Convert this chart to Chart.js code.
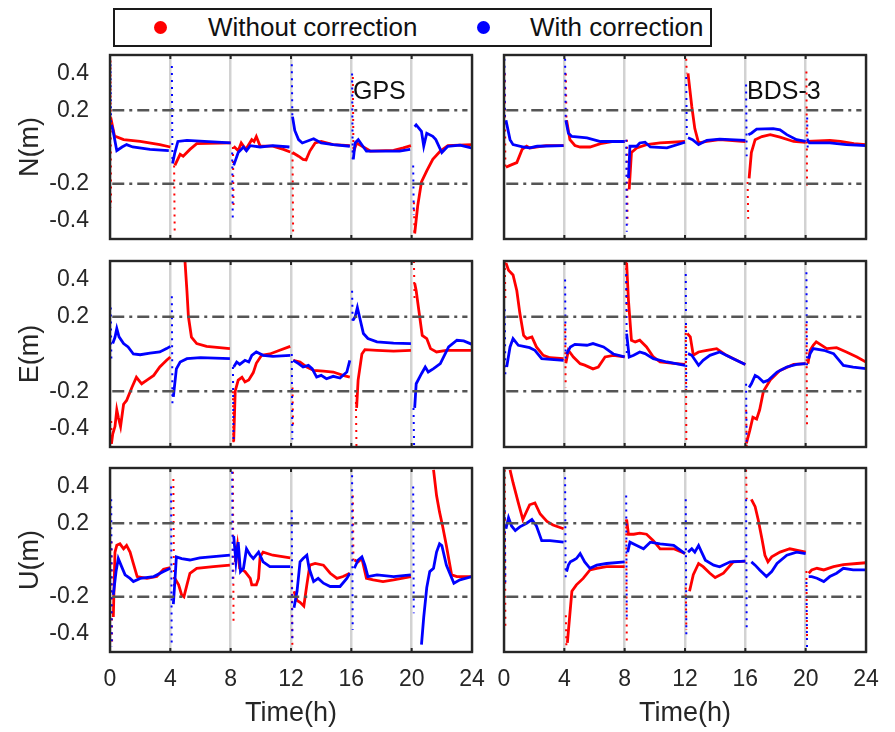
<!DOCTYPE html>
<html><head><meta charset="utf-8">
<script src="https://cdn.jsdelivr.net/npm/chart.js@4.4.1/dist/chart.umd.min.js"></script>
<style>
html,body{margin:0;padding:0;background:#fff;width:895px;height:732px;overflow:hidden;}
canvas{position:absolute;}
#legend{position:absolute;left:113px;top:8px;width:595px;height:35px;border:2px solid #1a1a1a;background:#fff;font-family:"Liberation Sans",Arial,sans-serif;font-size:26px;color:#111;}
.li{position:absolute;top:0;line-height:35px;white-space:nowrap;}
.dot{position:absolute;top:11px;width:13px;height:13px;border-radius:50%;}
</style></head><body>
<div id="legend"></div>
<canvas id="p0"></canvas><canvas id="p1"></canvas>
<canvas id="p2"></canvas><canvas id="p3"></canvas>
<canvas id="p4"></canvas><canvas id="p5"></canvas>
<script>
// ---------- data ----------
const seriesNames = ['Without correction', 'With correction'];
const seriesColors = ['#ff0000', '#0000ff'];
const systems = ['GPS', 'BDS-3'];
const components = ['N(m)', 'E(m)', 'U(m)'];
const xTicks = [0, 4, 8, 12, 16, 20, 24];
const yTicks = [-0.4, -0.2, 0.2, 0.4];
const refLevels = [0.2, -0.2];

// sessions: [time(h), value(m)]
const gpsN_red = [
 [[0.05,0.16],[0.15,0.12],[0.3,0.06],[0.9,0.04],[2.0,0.03],[3.3,0.013],[4.0,0.0]],
 [[4.3,-0.1],[4.65,-0.04],[4.85,-0.05],[5.3,-0.013],[5.75,0.018],[8.0,0.022]],
 [[8.2,0.004],[8.5,-0.02],[8.7,0.022],[9.0,-0.013],[9.4,0.04],[9.55,0.03],[9.7,0.057],[9.95,0.005],[10.8,0.005],[11.5,-0.013],[11.95,-0.027]],
 [[12.1,-0.03],[12.5,-0.05],[12.8,-0.067],[13.0,-0.07],[13.25,-0.022],[13.6,0.022],[14.0,0.03],[14.8,0.013],[15.9,0.007]],
 [[16.13,-0.03],[16.35,0.022],[16.8,0.0],[17.25,-0.022],[18.8,-0.018],[19.45,-0.005],[19.95,0.007]],
 [[20.2,-0.47],[20.4,-0.32],[20.65,-0.19],[21.0,-0.13],[21.4,-0.067],[21.9,-0.022],[22.4,0.008],[23.95,0.013]]
];
const gpsN_blue = [
 [[0.1,0.12],[0.2,0.09],[0.45,-0.02],[0.8,0.0],[1.1,0.013],[1.5,0.0],[2.65,-0.013],[3.9,-0.02]],
 [[4.15,-0.09],[4.3,-0.03],[4.5,0.03],[5.1,0.036],[8.0,0.022]],
 [[8.2,-0.1],[8.5,-0.03],[8.85,0.0],[9.05,-0.02],[9.3,0.007],[9.95,0.0],[10.8,0.007],[11.9,0.0]],
 [[12.1,0.165],[12.25,0.09],[12.5,0.04],[12.75,0.022],[13.5,0.045],[14.0,0.022],[14.8,0.013],[15.9,0.004]],
 [[16.13,-0.067],[16.25,0.022],[16.46,0.04],[16.8,0.0],[17.0,-0.022],[19.2,-0.022],[19.9,-0.013]],
 [[20.2,0.11],[20.3,0.12],[20.65,0.085],[20.8,0.005],[21.0,0.075],[21.4,0.058],[21.6,0.04],[22.0,-0.03],[22.4,0.004],[23.2,0.01],[23.95,-0.005]]
];
// spikes: [time, start value, end value]
const gpsN_redSpk = [[0.03,0.47,-0.33],[4.25,-0.1,-0.47],[8.15,0.0,-0.32],[12.1,-0.03,-0.46],[16.1,0.38,-0.03],[20.15,-0.3,-0.47]];
const gpsN_blueSpk = [[0.03,0.45,0.1],[4.1,0.44,-0.085],[8.1,-0.03,-0.4],[12.05,0.45,0.165],[16.05,0.4,-0.067],[20.1,-0.1,-0.37]];

const bdsN_red = [
 [[0.13,-0.11],[0.4,-0.1],[0.85,-0.085],[1.2,-0.013],[1.5,0.005],[1.7,-0.005],[2.8,0.008],[3.95,0.008]],
 [[4.15,0.145],[4.37,0.04],[4.7,0.008],[5.05,0.0],[5.7,0.0],[6.4,0.018],[7.25,0.03],[8.0,0.03]],
 [[8.3,-0.23],[8.45,-0.03],[8.8,-0.005],[9.45,0.013],[10.35,0.022],[12.0,0.03]],
 [[12.2,0.4],[12.45,0.22],[12.65,0.1],[12.9,0.022],[13.45,0.03],[14.3,0.04],[16.0,0.03]],
 [[16.25,-0.17],[16.4,-0.03],[16.65,0.04],[17.1,0.057],[17.65,0.067],[18.3,0.054],[19.2,0.03],[20.0,0.025]],
 [[20.1,0.03],[21.6,0.036],[22.3,0.03],[23.2,0.018],[24.0,0.013]]
];
const bdsN_blue = [
 [[0.13,0.145],[0.4,0.04],[0.6,0.013],[1.3,0.0],[1.7,-0.005],[2.2,0.004],[3.95,0.008]],
 [[4.1,0.145],[4.27,0.075],[4.5,0.057],[5.5,0.05],[6.4,0.03],[8.0,0.03]],
 [[8.25,-0.17],[8.35,0.004],[8.8,0.004],[9.0,0.022],[9.35,0.026],[9.7,0.0],[10.8,-0.005],[12.0,0.026]],
 [[12.2,0.05],[12.5,0.04],[12.9,0.013],[13.45,0.036],[14.3,0.043],[16.0,0.036]],
 [[16.2,0.067],[16.4,0.075],[16.75,0.097],[17.85,0.1],[18.3,0.093],[18.75,0.067],[19.4,0.04],[20.0,0.03]],
 [[20.1,0.04],[20.25,0.022],[21.6,0.022],[22.7,0.013],[24.0,0.008]]
];
const bdsN_redSpk = [[0.05,0.4,-0.11],[4.1,0.4,0.14],[8.15,0.04,-0.42],[12.08,0.48,0.4],[16.15,-0.19,-0.39],[20.05,0.41,-0.21]];
const bdsN_blueSpk = [[0.03,0.48,0.1],[4.05,0.48,0.15],[8.1,0.04,-0.46],[12.08,0.38,0.05],[16.05,0.34,-0.05],[20.1,0.16,-0.03]];

const gpsE_red = [
 [[0.1,-0.48],[0.18,-0.43],[0.33,-0.39],[0.45,-0.3],[0.55,-0.34],[0.7,-0.39],[0.9,-0.27],[1.1,-0.25],[1.45,-0.18],[1.75,-0.125],[2.1,-0.16],[2.45,-0.14],[2.9,-0.115],[3.3,-0.07],[3.75,-0.034],[4.0,-0.016]],
 [[4.97,0.5],[5.1,0.34],[5.2,0.2],[5.4,0.09],[5.75,0.056],[6.4,0.041],[7.95,0.029]],
 [[8.2,-0.47],[8.3,-0.2],[8.5,-0.14],[8.75,-0.125],[8.95,-0.15],[9.2,-0.14],[9.5,-0.1],[9.7,-0.05],[10.05,-0.007],[10.6,0.0],[11.25,0.02],[11.95,0.041]],
 [[12.15,-0.034],[12.6,-0.043],[13.05,-0.07],[13.5,-0.088],[14.15,-0.092],[14.8,-0.097],[15.45,-0.115],[15.9,-0.124]],
 [[16.35,-0.29],[16.45,-0.14],[16.7,0.0],[16.9,0.023],[17.7,0.02],[18.8,0.016],[19.95,0.02]],
 [[20.2,0.38],[20.3,0.34],[20.5,0.22],[20.7,0.1],[21.0,0.083],[21.25,0.029],[21.65,0.011],[22.3,0.02],[24.0,0.02]]
];
const gpsE_blue = [
 [[0.18,0.056],[0.33,0.09],[0.45,0.137],[0.6,0.092],[0.9,0.056],[1.2,0.038],[1.55,0.0],[2.0,-0.004],[2.65,0.005],[3.3,0.011],[3.75,0.029],[4.0,0.041]],
 [[4.2,-0.23],[4.4,-0.08],[4.65,-0.043],[5.1,-0.025],[6.0,-0.02],[7.95,-0.025]],
 [[8.2,-0.07],[8.4,-0.043],[8.6,-0.056],[8.95,-0.034],[9.2,-0.043],[9.4,-0.007],[9.7,0.011],[10.15,-0.007],[10.8,-0.013],[11.95,-0.007]],
 [[12.15,-0.034],[12.5,-0.052],[12.8,-0.07],[13.15,-0.061],[13.4,-0.079],[13.7,-0.124],[14.0,-0.115],[14.35,-0.133],[14.8,-0.12],[15.25,-0.129],[15.7,-0.097],[15.9,-0.034]],
 [[16.1,0.18],[16.25,0.2],[16.4,0.25],[16.6,0.18],[16.8,0.11],[17.1,0.083],[17.7,0.065],[18.8,0.059],[19.95,0.056]],
 [[20.2,-0.29],[20.3,-0.16],[20.65,-0.106],[20.9,-0.07],[21.1,-0.097],[21.45,-0.079],[21.9,-0.052],[22.45,0.038],[23.0,0.074],[23.45,0.07],[24.0,0.052]]
];
const gpsE_redSpk = [[0.08,-0.36,-0.49],[8.15,-0.2,-0.5],[12.1,-0.18,-0.4],[16.3,-0.22,-0.5],[20.15,0.5,0.3]];
const gpsE_blueSpk = [[0.05,0.25,-0.03],[4.1,0.31,-0.27],[8.15,-0.07,-0.48],[12.05,0.0,-0.46],[16.05,0.34,0.16],[20.12,-0.29,-0.49]];

const bdsE_red = [
 [[0.13,0.49],[0.3,0.45],[0.6,0.425],[0.85,0.34],[1.05,0.22],[1.3,0.1],[1.5,0.083],[1.85,0.092],[2.15,0.038],[2.6,-0.007],[3.05,-0.02],[3.95,-0.025]],
 [[4.1,-0.05],[4.27,0.02],[4.6,-0.016],[5.05,-0.052],[5.35,-0.06],[5.9,-0.08],[6.25,-0.07],[6.7,-0.016],[7.25,-0.007],[8.0,-0.016]],
 [[8.13,0.49],[8.25,0.29],[8.45,0.074],[8.7,0.065],[9.0,0.074],[9.45,0.038],[9.9,-0.016],[10.35,-0.043],[11.25,-0.05],[12.0,-0.056]],
 [[12.15,0.11],[12.35,0.092],[12.55,-0.007],[12.9,0.011],[13.45,0.02],[14.1,0.029],[14.75,-0.007],[16.0,-0.056]],
 [[16.07,-0.48],[16.3,-0.41],[16.5,-0.34],[16.75,-0.35],[16.95,-0.3],[17.2,-0.2],[17.65,-0.14],[18.3,-0.088],[19.2,-0.056],[20.0,-0.052]],
 [[20.15,-0.052],[20.3,0.02],[20.5,0.047],[20.7,0.065],[21.4,0.029],[22.05,0.034],[22.7,0.011],[23.4,-0.016],[24.0,-0.043]]
];
const bdsE_blue = [
 [[0.18,-0.07],[0.4,0.038],[0.6,0.083],[0.95,0.047],[1.3,0.041],[1.7,0.034],[2.05,0.02],[2.5,-0.025],[3.95,-0.034]],
 [[4.15,0.0],[4.4,0.038],[4.7,0.052],[5.5,0.047],[5.9,0.056],[6.6,0.038],[7.25,0.0],[8.0,-0.016]],
 [[8.13,0.11],[8.3,-0.016],[8.6,-0.007],[9.0,0.011],[9.35,0.002],[9.9,-0.025],[10.8,-0.043],[12.0,-0.061]],
 [[12.2,0.002],[12.45,-0.007],[12.9,-0.061],[13.2,-0.034],[13.65,-0.007],[14.3,0.011],[15.2,-0.025],[16.0,-0.056]],
 [[16.25,-0.18],[16.4,-0.16],[16.65,-0.115],[16.85,-0.124],[17.2,-0.151],[17.5,-0.142],[18.1,-0.097],[18.75,-0.07],[19.4,-0.056],[20.0,-0.052]],
 [[20.2,-0.025],[20.3,0.002],[20.5,0.029],[21.2,0.02],[21.85,0.002],[22.5,-0.061],[23.15,-0.07],[24.0,-0.079]]
];
const bdsE_redSpk = [[0.05,0.5,0.3],[4.05,0.16,-0.18],[8.1,0.5,0.2],[12.05,0.15,-0.47],[16.05,-0.3,-0.5],[20.05,0.16,-0.39]];
const bdsE_blueSpk = [[0.05,0.24,-0.12],[4.05,0.4,-0.05],[8.1,0.43,0.0],[12.05,0.43,-0.18],[16.05,-0.16,-0.5],[20.05,0.44,-0.07]];

const gpsU_red = [
 [[0.22,-0.31],[0.33,0.043],[0.45,0.08],[0.66,0.088],[0.9,0.061],[1.1,0.079],[1.33,0.043],[1.55,-0.02],[1.8,-0.09],[2.45,-0.1],[3.1,-0.09],[3.55,-0.05],[4.0,-0.042]],
 [[4.3,-0.1],[4.55,-0.135],[4.75,-0.19],[4.9,-0.2],[5.1,-0.135],[5.3,-0.072],[5.75,-0.045],[6.85,-0.036],[7.95,-0.028]],
 [[8.3,-0.01],[8.45,0.079],[8.6,-0.045],[8.95,-0.063],[9.3,-0.1],[9.4,-0.135],[9.7,-0.135],[9.85,-0.1],[9.95,0.017],[10.15,0.043],[10.8,0.026],[11.95,0.012]],
 [[12.2,-0.17],[12.4,-0.22],[12.6,-0.23],[12.85,-0.25],[13.05,-0.135],[13.25,-0.028],[13.6,-0.019],[14.15,-0.028],[14.6,-0.072],[15.05,-0.1],[15.45,-0.09],[15.9,-0.072]],
 [[16.2,0.0],[16.45,-0.01],[16.7,0.008],[17.0,-0.1],[17.45,-0.108],[18.1,-0.117],[18.8,-0.108],[19.95,-0.09]],
 [[21.45,0.49],[21.65,0.35],[21.85,0.26],[22.05,0.185],[22.3,0.079],[22.65,-0.081],[23.0,-0.09],[24.0,-0.09]]
];
const gpsU_blue = [
 [[0.22,-0.19],[0.4,-0.063],[0.55,0.008],[0.77,-0.036],[1.0,-0.081],[1.33,-0.1],[1.55,-0.117],[2.0,-0.1],[2.9,-0.09],[3.55,-0.063],[4.0,-0.045]],
 [[4.2,-0.24],[4.3,-0.117],[4.4,0.017],[4.75,0.008],[5.3,0.0],[5.95,0.011],[7.95,0.026]],
 [[8.2,0.13],[8.35,-0.01],[8.5,0.097],[8.65,-0.063],[8.85,-0.045],[9.05,0.061],[9.3,0.026],[9.5,0.008],[9.85,0.043],[10.15,-0.01],[10.6,-0.036],[11.95,-0.036]],
 [[12.2,-0.26],[12.4,-0.17],[12.6,-0.01],[12.8,0.008],[13.05,0.026],[13.2,-0.045],[13.5,-0.117],[13.8,-0.1],[14.15,-0.126],[14.6,-0.144],[15.25,-0.144],[15.7,-0.1],[15.9,-0.072]],
 [[16.2,-0.045],[16.45,0.0],[16.7,0.017],[16.9,-0.028],[17.1,-0.09],[17.7,-0.081],[18.8,-0.09],[19.95,-0.081]],
 [[20.65,-0.46],[20.8,-0.31],[21.0,-0.15],[21.2,-0.063],[21.45,-0.045],[21.65,0.043],[21.85,0.088],[22.0,0.079],[22.3,-0.028],[22.8,-0.126],[23.2,-0.108],[24.0,-0.09]]
];
const gpsU_redSpk = [[0.1,0.1,-0.47],[4.2,0.44,-0.14],[8.15,0.48,-0.35],[12.05,-0.07,-0.46],[16.1,0.35,0.0]];
const gpsU_blueSpk = [[0.08,0.33,-0.47],[4.05,0.4,-0.47],[8.1,0.48,-0.13],[12.05,0.27,-0.45],[16.05,0.46,-0.38],[20.1,0.4,-0.29]];

const bdsU_red = [
 [[0.4,0.49],[0.6,0.42],[0.95,0.31],[1.25,0.22],[1.5,0.265],[1.7,0.3],[2.05,0.31],[2.4,0.25],[2.85,0.21],[3.25,0.19],[3.95,0.17]],
 [[4.2,-0.45],[4.5,-0.17],[4.8,-0.135],[5.25,-0.1],[5.7,-0.054],[6.15,-0.045],[6.8,-0.036],[8.0,-0.036]],
 [[8.13,0.22],[8.25,0.14],[8.6,0.14],[9.0,0.146],[9.45,0.14],[9.9,0.105],[10.35,0.061],[11.25,0.061],[12.0,0.035]],
 [[12.3,-0.17],[12.55,-0.08],[12.9,-0.019],[13.2,-0.036],[13.65,-0.072],[14.0,-0.095],[14.55,-0.072],[15.2,-0.01],[16.0,-0.006]],
 [[16.4,0.33],[16.65,0.29],[16.85,0.22],[17.1,0.115],[17.3,0.026],[17.5,-0.01],[17.75,0.017],[18.3,0.043],[18.95,0.061],[20.0,0.043]],
 [[20.2,-0.072],[20.4,-0.054],[20.75,-0.045],[21.2,-0.054],[21.85,-0.036],[22.5,-0.025],[23.4,-0.019],[24.0,-0.015]]
];
const bdsU_blue = [
 [[0.13,0.17],[0.3,0.23],[0.5,0.185],[0.75,0.16],[1.05,0.18],[1.5,0.2],[1.85,0.22],[2.15,0.185],[2.5,0.105],[3.05,0.105],[3.95,0.097]],
 [[4.15,-0.063],[4.27,-0.028],[4.4,-0.01],[4.6,-0.001],[4.8,0.008],[5.05,0.035],[5.35,-0.01],[5.7,-0.045],[6.15,-0.028],[6.8,-0.019],[8.0,-0.01]],
 [[8.2,0.043],[8.35,0.097],[8.8,0.079],[9.25,0.061],[9.7,0.097],[10.35,0.088],[11.25,0.079],[12.0,0.035]],
 [[12.2,0.043],[12.45,0.061],[12.65,0.043],[12.9,0.079],[13.1,0.043],[13.35,-0.001],[13.9,-0.028],[14.3,-0.037],[15.0,-0.01],[16.0,-0.006]],
 [[16.4,-0.01],[16.65,-0.028],[16.95,-0.054],[17.4,-0.09],[17.75,-0.063],[18.1,-0.019],[18.75,0.026],[19.4,0.043],[20.0,0.035]],
 [[20.2,-0.09],[20.4,-0.09],[20.75,-0.099],[21.2,-0.117],[21.6,-0.09],[22.05,-0.072],[22.5,-0.045],[23.15,-0.054],[24.0,-0.054]]
];
const bdsU_redSpk = [[0.05,0.49,-0.36],[4.1,-0.3,-0.49],[8.1,0.22,-0.45],[12.05,-0.15,-0.38],[16.05,0.49,0.33],[20.05,-0.06,-0.42]];
const bdsU_blueSpk = [[0.05,0.27,-0.14],[4.05,0.45,-0.12],[8.1,0.35,-0.31],[12.05,0.33,-0.42],[16.05,0.33,-0.38],[20.05,-0.12,-0.49]];

// ---------- helpers ----------
const FONT = '"Liberation Sans", Arial, sans-serif';
const TXT = '#262626';
function toPts(sessions){
  const out = [];
  sessions.forEach((s, i) => {
    if (i) out.push({x: s[0][0], y: null});
    s.forEach(p => out.push({x: p[0], y: p[1]}));
  });
  return out;
}
function spikePts(sp){
  const out = [];
  sp.forEach((s, i) => {
    if (i) out.push({x: s[0], y: null});
    out.push({x: s[0], y: s[1]});
    out.push({x: s[0] + 0.04, y: s[2]});
  });
  return out;
}
function refPts(){
  const out = [];
  refLevels.forEach((v, i) => {
    if (i) out.push({x: 12, y: null});
    out.push({x: 0.15, y: v});
    out.push({x: 23.7, y: v});
  });
  return out;
}

// legend (HTML, built from the series lists)
(function(){
  const lg = document.getElementById('legend');
  const dotLeft = [38.5, 361.5], textLeft = [93, 415];
  seriesNames.forEach((n, i) => {
    const d = document.createElement('div');
    d.className = 'dot'; d.style.left = dotLeft[i] + 'px'; d.style.background = seriesColors[i];
    lg.appendChild(d);
    const t = document.createElement('div');
    t.className = 'li'; t.style.left = textLeft[i] + 'px'; t.textContent = n;
    lg.appendChild(t);
  });
})();

const framePlugin = {
  id: 'frame',
  afterDraw(chart, args, opts){
    const {ctx, chartArea: a} = chart;
    const x = chart.scales.x;
    ctx.save();
    ctx.strokeStyle = '#262626';
    ctx.lineWidth = 2;
    ctx.beginPath();
    xTicks.forEach(v => {
      const px = x.getPixelForValue(v);
      ctx.moveTo(px, a.top); ctx.lineTo(px, a.top + 4);
      ctx.moveTo(px, a.bottom); ctx.lineTo(px, a.bottom - 4);
    });
    ctx.stroke();
    ctx.lineWidth = 2.4;
    ctx.strokeRect(a.left, a.top, a.right - a.left, a.bottom - a.top);
    if (opts && opts.label) {
      ctx.fillStyle = '#111';
      ctx.font = '25px ' + FONT;
      ctx.textBaseline = 'middle';
      ctx.textAlign = 'left';
      ctx.fillText(opts.label, a.left + 243, a.top + 37);
    }
    ctx.restore();
  }
};

function makePanel(id, geom, red, blue, redSpk, blueSpk, cfg){
  const cv = document.getElementById(id);
  cv.width = geom.w; cv.height = geom.h;
  cv.style.left = geom.l + 'px'; cv.style.top = geom.t + 'px';
  cv.style.width = geom.w + 'px'; cv.style.height = geom.h + 'px';
  return new Chart(cv, {
    type: 'line',
    data: {datasets: [
      {label: 'ref', data: refPts(), borderColor: '#555555', borderWidth: 2.6, borderDash: [12, 5, 3, 5], pointRadius: 0, order: 0},
      {label: seriesNames[1] + ' spikes', data: spikePts(blueSpk), borderColor: seriesColors[1], borderWidth: 2, borderDash: [2, 5], pointRadius: 0, order: 1},
      {label: seriesNames[1], data: toPts(blue), borderColor: seriesColors[1], borderWidth: 2.8, pointRadius: 0, order: 1},
      {label: seriesNames[0] + ' spikes', data: spikePts(redSpk), borderColor: seriesColors[0], borderWidth: 2, borderDash: [2, 5], pointRadius: 0, order: 2},
      {label: seriesNames[0], data: toPts(red), borderColor: seriesColors[0], borderWidth: 2.8, pointRadius: 0, order: 2}
    ]},
    options: {
      responsive: false, animation: false, devicePixelRatio: 1,
      layout: {padding: geom.pad},
      elements: {line: {tension: 0}},
      plugins: {legend: {display: false}, tooltip: {enabled: false}, frame: {label: cfg.label}},
      scales: {
        x: {
          type: 'linear', min: 0, max: 24,
          afterBuildTicks: s => { s.ticks = xTicks.map(v => ({value: v})); },
          grid: {color: '#d2d2d2', lineWidth: 2.5, drawTicks: false},
          border: {display: false},
          ticks: {display: cfg.bottom, font: {family: FONT, size: 23}, color: TXT, padding: 14, maxRotation: 0, autoSkip: false},
          title: {display: cfg.bottom, text: 'Time(h)', font: {family: FONT, size: 27}, color: TXT, padding: {top: 0, bottom: 2}},
          afterFit: s => { s.height = cfg.bottom ? 80 : 0; s.paddingLeft = 0; s.paddingRight = 0; }
        },
        y: {
          type: 'linear', min: -0.5, max: 0.5, display: cfg.left,
          afterBuildTicks: s => { s.ticks = yTicks.map(v => ({value: v})); },
          grid: {display: false},
          border: {display: false},
          ticks: {font: {family: FONT, size: 23}, color: TXT, padding: 13, callback: v => String(v)},
          title: {display: true, text: cfg.ytitle, font: {family: FONT, size: 27}, color: TXT, padding: {top: 14, bottom: 0}},
          afterFit: s => { s.width = cfg.left ? 110 : 0; s.paddingTop = 0; s.paddingBottom = 0; }
        }
      }
    },
    plugins: [framePlugin]
  });
}

const L = (t, h, top, bot) => ({l: 0, t: t, w: 490, h: h, pad: {left: 0, right: 18, top: top, bottom: bot}});
const R = (t, h, top, bot) => ({l: 490, t: t, w: 400, h: h, pad: {left: 14, right: 24, top: top, bottom: bot}});

makePanel('p0', L(45, 200, 10, 6), gpsN_red, gpsN_blue, gpsN_redSpk, gpsN_blueSpk, {left: true, bottom: false, ytitle: components[0], label: systems[0]});
makePanel('p1', R(45, 200, 10, 6), bdsN_red, bdsN_blue, bdsN_redSpk, bdsN_blueSpk, {left: false, bottom: false, ytitle: components[0], label: systems[1]});
makePanel('p2', L(250, 200, 11, 3), gpsE_red, gpsE_blue, gpsE_redSpk, gpsE_blueSpk, {left: true, bottom: false, ytitle: components[1]});
makePanel('p3', R(250, 200, 11, 3), bdsE_red, bdsE_blue, bdsE_redSpk, bdsE_blueSpk, {left: false, bottom: false, ytitle: components[1]});
makePanel('p4', L(457, 275, 11, 0), gpsU_red, gpsU_blue, gpsU_redSpk, gpsU_blueSpk, {left: true, bottom: true, ytitle: components[2]});
makePanel('p5', R(457, 275, 11, 0), bdsU_red, bdsU_blue, bdsU_redSpk, bdsU_blueSpk, {left: false, bottom: true, ytitle: components[2]});
</script>
</body></html>
